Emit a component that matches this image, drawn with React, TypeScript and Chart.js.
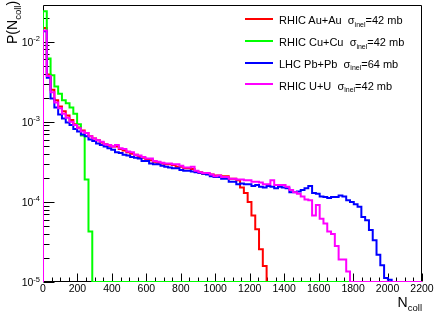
import React, { useEffect, useRef } from "react";
import { Chart, registerables } from "chart.js";

Chart.register(...registerables);

// ---- axis configuration ----
const X_MIN = 0;
const X_MAX = 2200;
const BIN_WIDTH = 22;
const N_BINS = 100;
const Y_MIN = 1e-5;
const Y_MAX = 0.0287;
const xTickLabels = [0, 200, 400, 600, 800, 1000, 1200, 1400, 1600, 1800, 2000, 2200];
const xMinorStep = 50;
const yDecadeExponents = [-5, -4, -3, -2];
const yMinorMultipliers = [2, 3, 4, 5, 6, 7, 8, 9];

// ---- series (probability per bin of width 22, starting at N_coll = 0) ----
const seriesNames = ["RHIC Au+Au", "RHIC Cu+Cu", "LHC Pb+Pb", "RHIC U+U"];
const sigmaInel = ["42", "42", "64", "42"];
const seriesColors = ["#ff0000", "#00ff00", "#0000ff", "#ff00ff"];

const auau = [
  1.48e-2, 3.89e-3, 2.51e-3, 1.86e-3, 1.55e-3, 1.35e-3, 1.2e-3, 1.05e-3, 9.33e-4, 8.51e-4,
  7.76e-4, 7.24e-4, 6.61e-4, 6.17e-4, 5.89e-4, 5.5e-4, 5.25e-4, 5.01e-4, 4.9e-4, 4.9e-4,
  4.57e-4, 4.37e-4, 4.17e-4, 3.98e-4, 3.89e-4, 3.63e-4, 3.55e-4, 3.39e-4, 3.31e-4, 3.16e-4,
  3.09e-4, 3.02e-4, 2.95e-4, 2.95e-4, 2.88e-4, 2.75e-4, 2.75e-4, 2.63e-4, 2.63e-4, 2.57e-4,
  2.4e-4, 2.34e-4, 2.24e-4, 2.24e-4, 2.19e-4, 2.14e-4, 2.14e-4, 2.09e-4, 2.09e-4, 1.95e-4,
  1.95e-4, 1.86e-4, 1.51e-4, 1.29e-4, 1.0e-4, 6.76e-5, 4.57e-5, 2.57e-5, 1.58e-5,
];

const cucu = [
  2.4e-2, 6.17e-3, 3.8e-3, 2.75e-3, 2.24e-3, 1.86e-3, 1.7e-3, 1.51e-3, 1.26e-3, 9.33e-4,
  6.76e-4, 1.91e-4, 4.27e-5,
];

const pbpb = [
  1.35e-2, 3.55e-3, 1.95e-3, 1.51e-3, 1.23e-3, 1.1e-3, 9.77e-4, 9.12e-4, 8.13e-4, 7.59e-4,
  6.92e-4, 6.61e-4, 6.03e-4, 5.75e-4, 5.37e-4, 5.13e-4, 4.9e-4, 4.68e-4, 4.47e-4, 4.17e-4,
  4.07e-4, 3.89e-4, 3.8e-4, 3.63e-4, 3.55e-4, 3.47e-4, 3.24e-4, 3.24e-4, 3.02e-4, 2.95e-4,
  2.95e-4, 2.82e-4, 2.75e-4, 2.69e-4, 2.63e-4, 2.63e-4, 2.51e-4, 2.45e-4, 2.45e-4, 2.4e-4,
  2.34e-4, 2.29e-4, 2.24e-4, 2.19e-4, 2.09e-4, 2.04e-4, 2.04e-4, 1.95e-4, 1.95e-4, 1.78e-4,
  1.78e-4, 1.66e-4, 1.7e-4, 1.66e-4, 1.66e-4, 1.58e-4, 1.62e-4, 1.55e-4, 1.51e-4, 1.58e-4,
  1.55e-4, 1.48e-4, 1.55e-4, 1.51e-4, 1.48e-4, 1.32e-4, 1.32e-4, 1.35e-4, 1.41e-4, 1.48e-4,
  1.58e-4, 1.29e-4, 1.26e-4, 1.17e-4, 1.15e-4, 1.12e-4, 1.15e-4, 1.15e-4, 1.2e-4, 1.17e-4,
  1.05e-4, 1.0e-4, 9.33e-5, 8.71e-5, 6.46e-5, 5.89e-5, 4.47e-5, 3.31e-5, 2.19e-5, 1.62e-5,
  1.12e-5, 1.07e-5,
];

const uu = [
  1.38e-2, 3.72e-3, 2.34e-3, 1.74e-3, 1.48e-3, 1.26e-3, 1.12e-3, 1.0e-3, 9.12e-4, 8.32e-4,
  7.59e-4, 7.24e-4, 6.61e-4, 6.17e-4, 5.89e-4, 5.62e-4, 5.25e-4, 5.13e-4, 4.9e-4, 5.13e-4,
  4.68e-4, 4.57e-4, 4.27e-4, 4.17e-4, 3.89e-4, 3.8e-4, 3.63e-4, 3.47e-4, 3.47e-4, 3.24e-4,
  3.16e-4, 3.09e-4, 3.02e-4, 3.02e-4, 2.95e-4, 2.95e-4, 2.82e-4, 2.69e-4, 2.69e-4, 2.75e-4,
  2.45e-4, 2.34e-4, 2.29e-4, 2.29e-4, 2.19e-4, 2.09e-4, 2.14e-4, 2.04e-4, 2.04e-4, 1.95e-4,
  1.95e-4, 1.91e-4, 1.91e-4, 1.86e-4, 1.86e-4, 1.78e-4, 1.78e-4, 1.74e-4, 1.66e-4, 1.66e-4,
  1.86e-4, 1.62e-4, 1.62e-4, 1.62e-4, 1.55e-4, 1.41e-4, 1.32e-4, 1.26e-4, 1.17e-4, 1.07e-4,
  1.05e-4, 6.76e-5, 9.12e-5, 6.17e-5, 5.37e-5, 4.27e-5, 3.98e-5, 2.82e-5, 1.91e-5, 1.91e-5,
  1.35e-5,
];

const seriesValues = [auau, cucu, pbpb, uu];
// drawing order: lower = on top
const seriesOrder = [3, 2, 1, 0];

const FONT = "'Liberation Sans', Arial, Helvetica, sans-serif";

// Histogram outline: empty bins sit on the bottom of the frame (like ROOT).
function histPoints(values: number[]) {
  const pts: { x: number; y: number }[] = [{ x: X_MIN, y: Y_MIN }];
  for (let k = 0; k < N_BINS; k++) {
    const v = k < values.length ? values[k] : 0;
    pts.push({ x: X_MIN + k * BIN_WIDTH, y: Math.max(v, Y_MIN) });
  }
  pts.push({ x: X_MIN + N_BINS * BIN_WIDTH, y: Y_MIN });
  return pts;
}

const rootAxesPlugin = {
  id: "rootAxes",
  beforeDatasetsDraw(chart: any) {
    const { ctx, chartArea: a, scales } = chart;
    const xs = scales.x;
    const ys = scales.y;
    const L = Math.round(a.left) + 0.5;
    const R = Math.round(a.right) - 0.5;
    const T = Math.round(a.top) + 0.5;
    const B = Math.round(a.bottom) - 0.5;
    ctx.save();
    ctx.strokeStyle = "#000";
    ctx.lineWidth = 1;
    ctx.beginPath();
    ctx.moveTo(L, T);
    ctx.lineTo(R, T);
    ctx.lineTo(R, B);
    ctx.lineTo(L, B);
    ctx.closePath();
    ctx.stroke();

    ctx.beginPath();
    // x ticks (inside the frame)
    for (let v = X_MIN; v <= X_MAX + 1e-9; v += xMinorStep) {
      const px = Math.round(xs.getPixelForValue(v)) + 0.5;
      const major = xTickLabels.includes(v);
      const len = major ? 8 : 4;
      ctx.moveTo(px, B);
      ctx.lineTo(px, B - len);
    }
    // y ticks
    for (const e of yDecadeExponents.concat([yDecadeExponents[yDecadeExponents.length - 1] + 1])) {
      const dec = Math.pow(10, e);
      const mults = [1].concat(yMinorMultipliers);
      for (const m of mults) {
        const v = m * dec;
        if (v < Y_MIN - 1e-12 || v > Y_MAX) continue;
        const py = Math.round(ys.getPixelForValue(v)) + 0.5;
        const len = m === 1 ? 11 : 6;
        ctx.moveTo(L, py);
        ctx.lineTo(L + len, py);
      }
    }
    ctx.stroke();
    ctx.restore();
  },
  afterDraw(chart: any) {
    const { ctx, chartArea: a, scales } = chart;
    const xs = scales.x;
    const ys = scales.y;
    ctx.save();
    ctx.fillStyle = "#000";
    // x labels
    ctx.font = `10.5px ${FONT}`;
    ctx.textAlign = "center";
    ctx.textBaseline = "alphabetic";
    for (const v of xTickLabels) {
      ctx.fillText(String(v), xs.getPixelForValue(v), a.bottom + 10);
    }
    // y labels 10^e
    const right = a.left - 3;
    for (const e of yDecadeExponents) {
      const py = ys.getPixelForValue(Math.pow(10, e));
      const sup = String(e);
      ctx.font = `7.5px ${FONT}`;
      const supW = ctx.measureText(sup).width;
      ctx.font = `10.5px ${FONT}`;
      const baseW = ctx.measureText("10").width;
      ctx.textAlign = "left";
      ctx.fillText("10", right - supW - baseW, py + 4);
      ctx.font = `7.5px ${FONT}`;
      ctx.fillText(sup, right - supW, py - 0.5);
    }
    ctx.restore();
  },
};

function ChartCanvas() {
  const ref = useRef<HTMLCanvasElement | null>(null);
  useEffect(() => {
    if (!ref.current) return;
    const datasets = seriesNames.map((name, i) => ({
      label: name,
      data: histPoints(seriesValues[i]),
      borderColor: seriesColors[i],
      backgroundColor: seriesColors[i],
      borderWidth: 2,
      pointRadius: 0,
      stepped: true as const,
      fill: false,
      tension: 0,
      order: seriesOrder[i],
      borderJoinStyle: "miter" as const,
    }));
    const chart = new Chart(ref.current, {
      type: "line",
      data: { datasets },
      options: {
        animation: false,
        responsive: false,
        devicePixelRatio: 1,
        events: [],
        layout: { padding: { left: 43, right: 14, top: 5, bottom: 32 } },
        plugins: { legend: { display: false }, tooltip: { enabled: false } },
        scales: {
          x: { type: "linear", min: X_MIN, max: X_MAX, display: false },
          y: { type: "logarithmic", min: Y_MIN, max: Y_MAX, display: false },
        },
      },
      plugins: [rootAxesPlugin],
    } as any);
    return () => chart.destroy();
  }, []);
  return (
    <canvas
      ref={ref}
      width={436}
      height={314}
      style={{ position: "absolute", left: 0, top: 0, width: 436, height: 314 }}
    />
  );
}

const LEGEND_LINE_X = 245;
const LEGEND_LINE_W = 28;
const LEGEND_TEXT_X = 279;
const LEGEND_FIRST_BASELINE = 24.7;
const LEGEND_ROW = 21.7;

export default function App() {
  return (
    <div
      style={{
        position: "absolute",
        left: 0,
        top: 0,
        width: 436,
        height: 314,
        background: "#fff",
        overflow: "hidden",
        fontFamily: FONT,
        color: "#000",
      }}
    >
      <ChartCanvas />
      {/* legend */}
      {seriesNames.map((name, i) => {
        const base = LEGEND_FIRST_BASELINE + i * LEGEND_ROW;
        return (
          <React.Fragment key={name}>
            <div
              style={{
                position: "absolute",
                left: LEGEND_LINE_X,
                top: base - 6.4,
                width: LEGEND_LINE_W,
                height: 2,
                background: seriesColors[i],
              }}
            />
            <div
              style={{
                position: "absolute",
                left: LEGEND_TEXT_X,
                top: base - 10.3,
                fontSize: 11,
                lineHeight: "13px",
                whiteSpace: "pre",
              }}
            >
              {name}
              {"  "}
              <span>σ</span>
              <span style={{ fontSize: 7, position: "relative", top: 2.5, lineHeight: 0 }}>inel</span>
              {"=" + sigmaInel[i] + " mb"}
            </div>
          </React.Fragment>
        );
      })}
      {/* x title */}
      <div
        style={{
          position: "absolute",
          left: 0,
          top: 293.6,
          width: 422,
          textAlign: "right",
          fontSize: 14,
          lineHeight: "16px",
          whiteSpace: "pre",
        }}
      >
        N
        <span style={{ fontSize: 9.5, position: "relative", top: 4, lineHeight: 0 }}>coll</span>
      </div>
      {/* y title */}
      <div
        style={{
          position: "absolute",
          left: 3.6,
          top: 43.5,
          transform: "rotate(-90deg)",
          transformOrigin: "0 0",
          fontSize: 14,
          lineHeight: "16px",
          whiteSpace: "pre",
        }}
      >
        P(N
        <span style={{ fontSize: 9.5, position: "relative", top: 4, lineHeight: 0 }}>coll</span>)
      </div>
    </div>
  );
}
